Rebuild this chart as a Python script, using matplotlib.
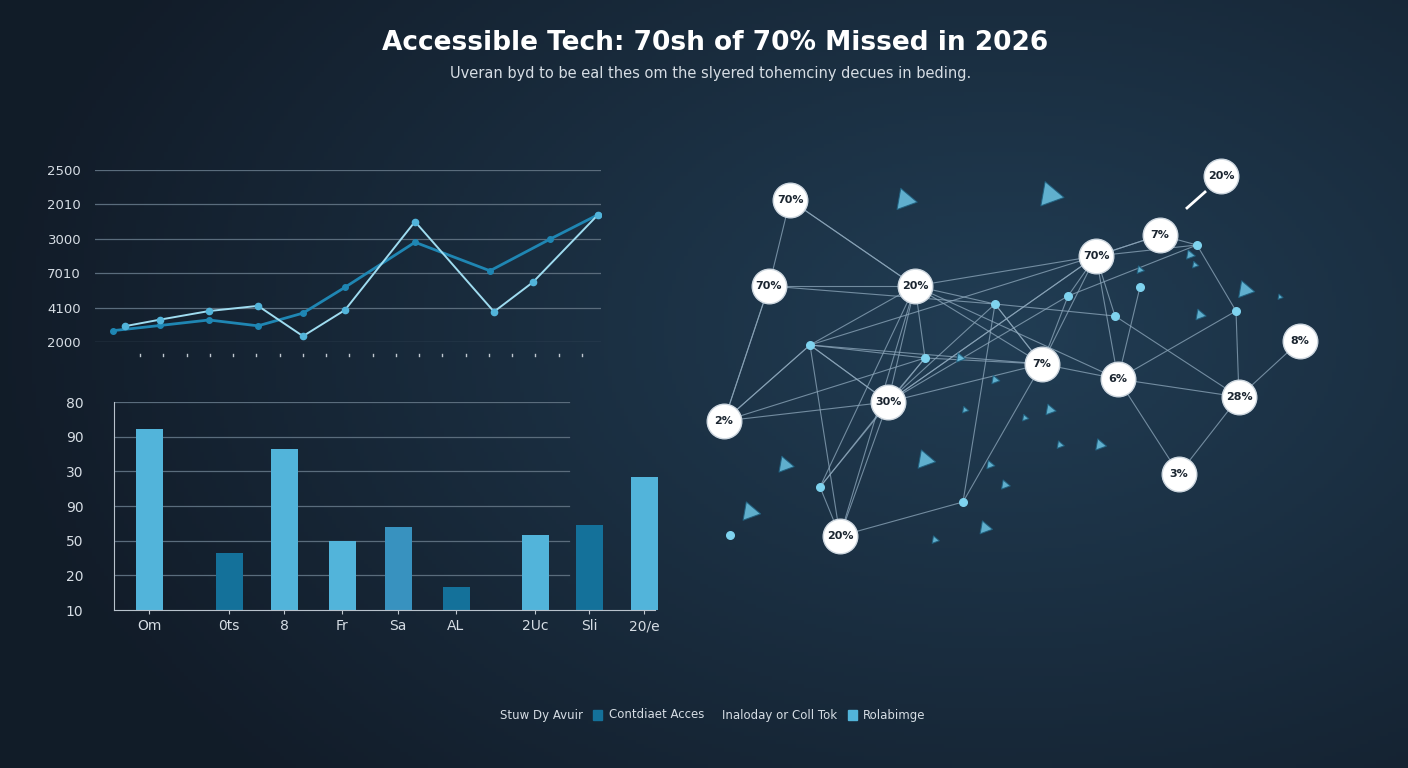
import matplotlib.pyplot as plt
import numpy as np

W, H = 1408, 768

# ---- line chart data (grid units, 0 = bottom line) ----
line_ytick_labels = ["2000", "4100", "7010", "3000", "2010", "2500"]
light_x = [125, 160, 209, 258, 303, 345, 415, 494, 533, 598]
light_y = [0.46, 0.65, 0.90, 1.05, 0.17, 0.93, 3.50, 0.88, 1.74, 3.70]
dark_x = [113, 160, 209, 258, 303, 345, 415, 490, 550, 598]
dark_y = [0.33, 0.48, 0.64, 0.47, 0.84, 1.59, 2.90, 2.07, 2.99, 3.70]

# ---- bar chart data ----
bar_ytick_labels = ["10", "20", "50", "90", "30", "90", "80"]
bar_labels = ["Om", "0ts", "8", "Fr", "Sa", "AL", "2Uc", "Sli", "20/e"]
bar_x = [149, 229, 284, 342, 398, 456, 535, 589, 644]
bar_vals = [5.23, 1.63, 4.65, 1.99, 2.39, 0.67, 2.16, 2.45, 3.83]
bar_shade = ["light", "dark", "light", "light", "mid", "dark", "light", "dark", "light"]

# ---- network data (pixel space) ----
nodes = [(790, 200, "70%"), (769, 286, "70%"), (915, 286, "20%"), (1096, 256, "70%"),
         (1160, 235, "7%"), (1221, 176, "20%"), (1300, 341, "8%"), (1042, 364, "7%"),
         (1118, 379, "6%"), (888, 402, "30%"), (724, 421, "2%"), (1239, 397, "28%"),
         (1179, 474, "3%"), (840, 536, "20%")]
dots = [(995, 304), (810, 345), (925, 358), (1068, 296), (1115, 316), (1197, 245),
        (1140, 287), (820, 487), (963, 502), (730, 535), (1236, 311)]
edges = [(0, 1), (0, 2), (1, 2), (1, 10), (2, 3), (2, 9), (2, 7), (2, 14), (2, 15),
         (3, 7), (3, 8), (3, 9), (3, 17), (3, 18), (4, 3), (8, 11), (8, 12), (11, 6),
         (11, 12), (9, 10), (9, 13), (9, 15), (10, 15), (13, 21), (13, 22), (7, 14),
         (14, 1), (15, 16), (14, 18), (2, 16), (16, 9), (7, 17), (17, 19),
         (3, 19), (21, 9), (8, 20), (15, 7), (2, 8), (7, 22), (0, 905 - 905 + 2),
         (15, 10), (9, 7), (9, 3), (2, 21), (15, 9), (14, 9), (14, 7), (16, 7),
         (17, 9), (3, 4), (4, 19), (19, 24), (24, 11), (8, 24), (7, 8), (15, 13),
         (16, 21), (2, 13), (14, 22), (15, 3), (18, 11), (10, 1), (16, 10)]
frags = [(905, 200), (1050, 195), (1190, 255), (1140, 270), (1245, 290), (1200, 315),
         (960, 358), (995, 380), (1050, 410), (1100, 445), (785, 465), (925, 460),
         (990, 465), (1005, 485), (750, 512), (985, 528), (935, 540), (1060, 445),
         (1025, 418), (965, 410), (1280, 297), (1195, 265)]
frag_sizes = [320, 420, 60, 40, 200, 80, 60, 50, 80, 90, 180, 240, 50, 60, 240, 120, 40, 40, 30, 30, 20, 30]

light_c, dark_c, mid_c = "#52b4da", "#14719a", "#3892bf"
shade_map = {"light": light_c, "dark": dark_c, "mid": mid_c}
text_c = "#d6dde4"

fig = plt.figure(figsize=(W / 100, H / 100), dpi=100)

# background gradient
bg = fig.add_axes([0, 0, 1, 1])
yy, xx = np.mgrid[0:H:4, 0:W:4]
d = np.sqrt(((xx - 1000) / 1000.0) ** 2 + ((yy - 330) / 650.0) ** 2)
t = np.clip(1 - d, 0, 1)
c0, c1 = np.array([0.07, 0.11, 0.16]), np.array([0.13, 0.24, 0.33])
img = c0 + (c1 - c0) * t[..., None]
bg.imshow(img, extent=[0, W, H, 0], aspect="auto")
bg.set_xlim(0, W)
bg.set_ylim(H, 0)
bg.axis("off")


def px_axes(x0, y0, x1, y1):
    return fig.add_axes([x0 / W, 1 - y1 / H, (x1 - x0) / W, (y1 - y0) / H])


# ---- line chart ----
ax1 = px_axes(95, 170, 601, 342)
ax1.set_facecolor("none")
ax1.set_xlim(95, 601)
ax1.set_ylim(0, 5)
for v in range(6):
    ax1.axhline(v, color="#5a6c7c", lw=0.9, zorder=0)
ax1.plot(dark_x, dark_y, color="#1f86b3", lw=2, marker="o", ms=4, zorder=3)
ax1.plot(light_x, light_y, color="#9fdcf0", lw=1.4, marker="o", ms=4.5,
         mfc=light_c, mec=light_c, zorder=4)
ax1.set_yticks(range(6))
ax1.set_yticklabels(line_ytick_labels, color=text_c, fontsize=9.5)
ax1.tick_params(axis="y", length=0, pad=10)
for s in ax1.spines.values():
    s.set_visible(False)
for xt in np.linspace(140, 582, 20):
    ax1.plot([xt, xt], [-0.42, -0.36], color="#c0c8d0", lw=1, clip_on=False)
ax1.set_xticks([])

# ---- bar chart ----
ax2 = px_axes(114, 402, 660, 610)
ax2.set_facecolor("none")
ax2.set_xlim(114, 660)
ax2.set_ylim(0, 6)
for v in range(1, 7):
    ax2.plot([114, 569], [v, v], color="#5a6c7c", lw=0.9, zorder=0)
ax2.bar(bar_x, bar_vals, width=27, color=[shade_map[s] for s in bar_shade], zorder=2)
ax2.set_yticks(range(7))
ax2.set_yticklabels(bar_ytick_labels, color=text_c, fontsize=10)
ax2.tick_params(axis="y", length=0, pad=22)
ax2.set_xticks(bar_x)
ax2.set_xticklabels(bar_labels, color=text_c, fontsize=10)
ax2.tick_params(axis="x", length=3, colors="#c0c8d0", labelcolor=text_c)
for s in ["top", "right"]:
    ax2.spines[s].set_visible(False)
ax2.spines["left"].set_color("#b8c2cc")
ax2.spines["bottom"].set_color("#b8c2cc")
ax2.spines["bottom"].set_bounds(114, 655)

# ---- network ----
ax3 = px_axes(0, 0, W, H)
ax3.set_xlim(0, W)
ax3.set_ylim(H, 0)
ax3.axis("off")
pts = [(x, y) for x, y, _ in nodes] + dots
for a, b in edges:
    if a < len(pts) and b < len(pts) and a != b:
        ax3.plot([pts[a][0], pts[b][0]], [pts[a][1], pts[b][1]],
                 color="#8fa9bd", lw=0.8, alpha=0.75, zorder=1)
fx, fy = zip(*frags)
ax3.scatter(fx, fy, s=frag_sizes, marker=(3, 0, 20), color="#6cc6e6",
            edgecolor="#1f5f7e", lw=0.8, alpha=0.85, zorder=2)
dx, dy = zip(*dots)
ax3.scatter(dx, dy, s=30, color="#7fd3ef", zorder=3)
for x, y, lab in nodes:
    ax3.scatter([x], [y], s=620, color="white", edgecolor="#cfd8e0", zorder=4)
    ax3.text(x, y, lab, ha="center", va="center", fontsize=8, fontweight="bold",
             color="#1b2530", zorder=5)
ax3.plot([1187, 1205], [208, 192], color="white", lw=2, zorder=3)

# ---- titles ----
fig.text(0.508, 0.944, "Accessible Tech: 70sh of 70% Missed in 2026", ha="center",
         va="center", color="white", fontsize=19, fontweight="bold")
fig.text(0.505, 0.904, "Uveran byd to be eal thes om the slyered tohemciny decues in beding.",
         ha="center", va="center", color=text_c, fontsize=10.5)

# ---- legend ----
ly = 1 - 715 / H
fig.text(500 / W, ly, "Stuw Dy Avuir", color=text_c, fontsize=8.5, va="center")
fig.patches.append(plt.Rectangle((593 / W, ly - 0.007), 9 / W, 0.014,
                                 transform=fig.transFigure, color=dark_c))
fig.text(609 / W, ly, "Contdiaet Acces", color=text_c, fontsize=8.5, va="center")
fig.text(722 / W, ly, "Inaloday or Coll Tok", color=text_c, fontsize=8.5, va="center")
fig.patches.append(plt.Rectangle((848 / W, ly - 0.007), 9 / W, 0.014,
                                 transform=fig.transFigure, color=light_c))
fig.text(863 / W, ly, "Rolabimge", color=text_c, fontsize=8.5, va="center")

fig.savefig("out.png", dpi=100)
